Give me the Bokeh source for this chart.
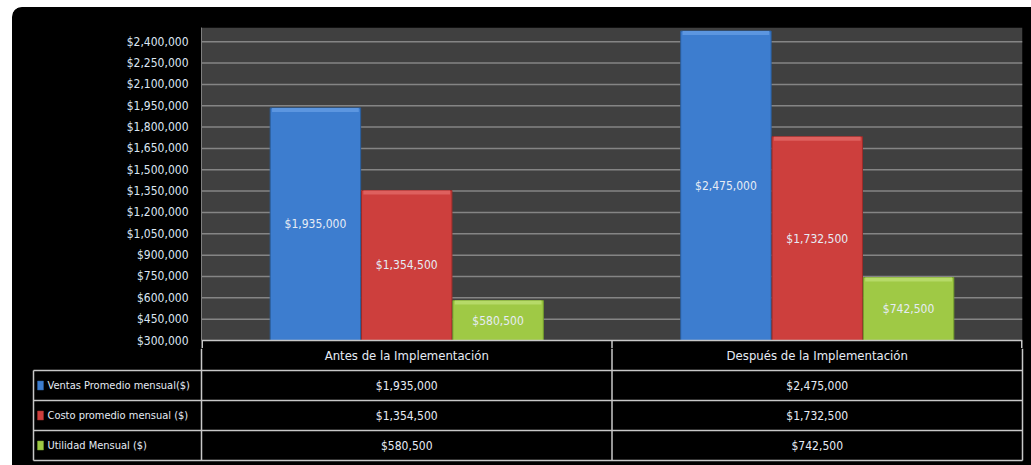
from bokeh.plotting import figure
from bokeh.layouts import column, row
from bokeh.models import ColumnDataSource, Range1d, FixedTicker, NumeralTickFormatter, Span
from bokeh.core.properties import value
from bokeh.embed import file_html
from bokeh.resources import INLINE

# ---------------- data ----------------
categories = ["Antes de la Implementación", "Después de la Implementación"]
series = ["Ventas Promedio mensual($)", "Costo promedio mensual ($)", "Utilidad Mensual ($)"]
ventas = [1935000, 2475000]
costo = [1354500, 1732500]
utilidad = [580500, 742500]
y_ticks = [300000, 450000, 600000, 750000, 900000, 1050000, 1200000, 1350000,
           1500000, 1650000, 1800000, 1950000, 2100000, 2250000, 2400000]
y_min, y_max = 300000, 2500000

# ---------------- style ----------------
FONT = "'DejaVu Sans Condensed', 'Open Sans', sans-serif"
FS = "12px"
colors = ["#3d7dcf", "#cd3f3d", "#9fc945"]
bevel = ["#5c96e0", "#de605e", "#b6da68"]
edge = ["#2a5d9c", "#9c2c2a", "#76a02c"]
TXT = "#e6ecf5"
TABLE_LINE = "#c8c8c8"
GRID = "#858585"

series_vals = [ventas, costo, utilidad]
n_cat = len(categories)
bar_w = 0.2225
offsets = [-bar_w, 0.0, bar_w]

# layout (pixels)
fig_left = 12
plot_left, plot_right = 201, 1022
plot_top, plot_bottom = 27, 340
overhang = 8
top_fig_h = plot_bottom + overhang - 7
unit_px = (plot_right - plot_left) / n_cat
val_per_px = (y_max - y_min) / (plot_bottom - plot_top)
y_start = y_min - overhang * val_per_px

# ---------------- top figure: bars ----------------
top = figure(width=1031 - fig_left, height=top_fig_h,
             x_range=Range1d(0, n_cat), y_range=Range1d(y_start, y_max),
             output_backend="svg", toolbar_location=None,
             min_border_left=plot_left - fig_left, min_border_right=1031 - plot_right,
             min_border_top=plot_top - 7, min_border_bottom=0,
             background_fill_color="black", border_fill_color="black",
             outline_line_color=None)
top.margin = (7, 0, 0, fig_left)
top.styles = {"border-top-left-radius": "10px", "overflow": "hidden", "background-color": "black"}

# plot area and gridlines (behind the bars)
top.quad(left=[0], right=[n_cat], bottom=[y_min], top=[y_max], fill_color="#404040", line_color=None)
gy = y_ticks[1:]
top.segment(x0=[0] * len(gy), x1=[n_cat] * len(gy), y0=gy, y1=gy, line_color=GRID, line_width=1.5)

for s, (vals, off) in enumerate(zip(series_vals, offsets)):
    xs = [i + 0.5 + off for i in range(n_cat)]
    src = ColumnDataSource(dict(
        x=xs, top=vals, bottom=[y_min] * n_cat,
        bev=[v - 4 * val_per_px for v in vals],
        mid=[(v + y_min) / 2 for v in vals],
        label=["${:,}".format(v) for v in vals]))
    top.vbar(x="x", top="top", bottom="bottom", width=bar_w * 0.99, source=src,
             fill_color=colors[s], line_color=edge[s], line_width=1)
    top.vbar(x="x", top="top", bottom="bev", width=bar_w * 0.95, source=src,
             fill_color=bevel[s], line_color=None)
    top.text(x="x", y="mid", text="label", source=src, text_align="center",
             text_baseline="middle", text_color=TXT, text_font=value(FONT),
             text_font_size=FS)

top.xaxis.visible = False
top.xgrid.visible = False
top.ygrid.visible = False
yax = top.yaxis[0]
yax.ticker = FixedTicker(ticks=y_ticks)
yax.formatter = NumeralTickFormatter(format="$0,0")
yax.bounds = (y_min, y_max)
yax.axis_line_color = "#7f7f7f"
yax.major_tick_line_color = None
yax.major_tick_out = 0
yax.major_tick_in = 0
yax.minor_tick_line_color = None
yax.major_label_text_color = "#dce6f2"
yax.major_label_text_font = FONT
yax.major_label_text_font_size = FS
yax.major_label_standoff = 13

# table top border and column separators in the overhang
top.add_layout(Span(location=y_min, dimension="width", line_color=TABLE_LINE, line_width=1.5))
top.segment(x0=list(range(n_cat + 1)), x1=list(range(n_cat + 1)),
            y0=[y_start] * (n_cat + 1), y1=[y_min] * (n_cat + 1),
            line_color=TABLE_LINE, line_width=[3] + [1.5] * (n_cat - 1) + [3])

# ---------------- bottom figure: data table ----------------
row_px = 30
tab_fig_h = 465 - (plot_bottom + overhang)
n_rows = len(series) + 1
yr_top = overhang / row_px
yr_bot = (465 - plot_bottom) / row_px
frame_l, frame_r = 30, 1025
leg_line_x = (33 - plot_left) / unit_px

tab = figure(width=1031 - fig_left, height=tab_fig_h,
             x_range=Range1d((frame_l - plot_left) / unit_px, (frame_r - plot_left) / unit_px),
             y_range=Range1d(yr_bot, yr_top),
             output_backend="svg", toolbar_location=None,
             min_border_left=frame_l - fig_left, min_border_right=1031 - frame_r,
             min_border_top=0, min_border_bottom=0,
             background_fill_color="black", border_fill_color="black",
             outline_line_color=None)
tab.margin = (0, 0, 0, fig_left)
tab.styles = {"background-color": "black"}
tab.axis.visible = False
tab.grid.visible = False

hy = list(range(1, n_rows + 1))
tab.segment(x0=[leg_line_x] * len(hy), x1=[n_cat] * len(hy), y0=hy, y1=hy,
            line_color=TABLE_LINE, line_width=1.5)
tab.segment(x0=[leg_line_x], x1=[leg_line_x], y0=[1], y1=[n_rows], line_color=TABLE_LINE, line_width=1.5)
vx = list(range(n_cat + 1))
tab.segment(x0=vx, x1=vx, y0=[yr_top] * len(vx), y1=[n_rows] * len(vx),
            line_color=TABLE_LINE, line_width=1.5)

tab.text(x=[i + 0.5 for i in range(n_cat)], y=[0.5] * n_cat, text=categories,
         text_align="center", text_baseline="middle", text_color=TXT,
         text_font=value(FONT), text_font_size="13px")
for s, vals in enumerate(series_vals):
    yy = s + 1.5
    tab.text(x=[i + 0.5 for i in range(n_cat)], y=[yy] * n_cat,
             text=["${:,}".format(v) for v in vals], text_align="center",
             text_baseline="middle", text_color=TXT, text_font=value(FONT),
             text_font_size=FS)
    tab.rect(x=[leg_line_x + 7 / unit_px], y=[yy], width=6, height=9,
             width_units="screen", height_units="screen",
             fill_color=colors[s], line_color=edge[s], line_width=0.5)
    tab.text(x=[leg_line_x + 14 / unit_px], y=[yy], text=[series[s]],
             text_align="left", text_baseline="middle", text_color=TXT,
             text_font=value(FONT), text_font_size="11px")

layout = column(row(top, spacing=0), row(tab, spacing=0), spacing=0)
open("out.html", "w").write(file_html(layout, INLINE))
